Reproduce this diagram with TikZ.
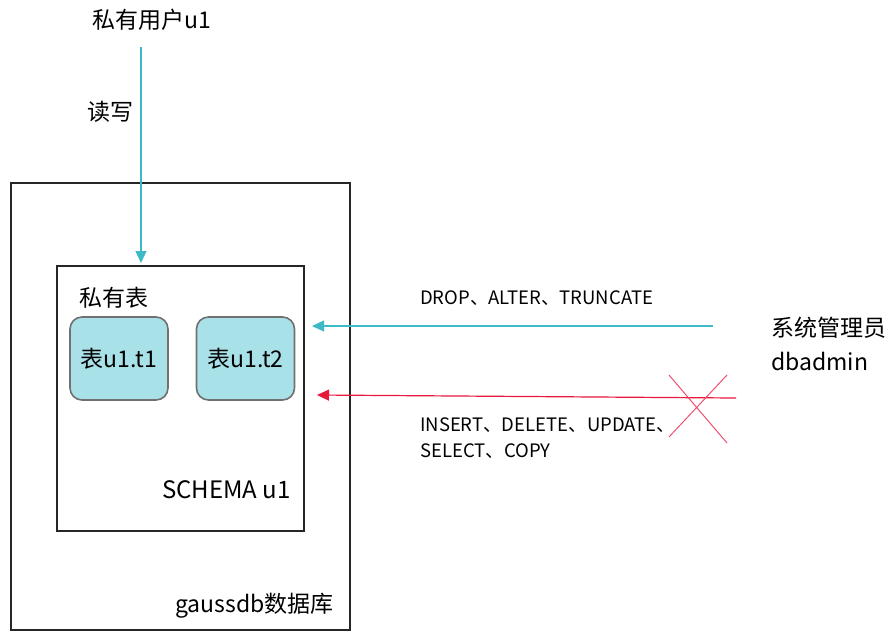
\documentclass[tikz,border=0pt]{standalone}
\usepackage{fontspec}
\setmainfont{Noto Sans CJK SC}
\usetikzlibrary{arrows.meta}
\definecolor{teal}{HTML}{3DB9C8}
\definecolor{redarr}{HTML}{E8173C}
\definecolor{crossred}{HTML}{F0506E}
\definecolor{tblfill}{HTML}{A9E1E9}
\definecolor{tbldraw}{HTML}{707070}
\tikzset{
  box/.style={draw=black!85, line width=1.6pt},
  tbl/.style={draw=tbldraw, line width=1.6pt, fill=tblfill, rounded corners=12pt, minimum width=98pt, minimum height=83pt, inner sep=0pt, font=\fontsize{23}{26}\selectfont},
  big/.style={font=\fontsize{23}{26}\selectfont, inner sep=0pt},
  small/.style={font=\fontsize{18.5}{21}\selectfont, inner sep=0pt, anchor=west},
  tealarr/.style={draw=teal, line width=1.2pt, -{Triangle[length=12pt,width=11pt]}},
  redarrow/.style={draw=redarr, line width=1.2pt, -{Triangle[length=12pt,width=11pt]}},
}
\begin{document}
\begin{tikzpicture}[x=1pt,y=-1pt]
\useasboundingbox (0,0) rectangle (890,630);
\node[box, minimum width=339pt, minimum height=447pt, anchor=north west, inner sep=0pt] (db) at (10,182) {};
\node[box, minimum width=247pt, minimum height=265pt, anchor=north west, inner sep=0pt] (schema) at (56,265) {};
\node[tbl] (t1) at (119,358.5) {表u1.t1};
\node[tbl] (t2) at (245.5,358.5) {表u1.t2};
\node[big, anchor=west] (ptab) at (79,298) {私有表};
\node[big, anchor=east, font=\fontsize{24}{27}\selectfont] (slab) at (291,490) {SCHEMA u1};
\node[big, anchor=east] (dblab) at (334,606) {gaussdb数据库};
\node[big] (user) at (152,20) {私有用户u1};
\node[big] (rw) at (110,112) {读写};
\coordinate (ustart) at (141,47);
\coordinate (uend) at (141,263);
\draw[tealarr] (ustart) -- (uend);
\node[big, anchor=west] (admin1) at (771,328) {系统管理员};
\node[big, anchor=west] (admin2) at (771,361) {dbadmin};
\coordinate (d1) at (713,326);
\coordinate (d2) at (312,326);
\draw[tealarr] (d1) -- (d2);
\node[small] (ddl) at (420,298) {DROP、ALTER、TRUNCATE};
\coordinate (r1) at (736,398);
\coordinate (r2) at (317,395);
\draw[redarrow] (r1) -- (r2);
\node[small] (dml1) at (420,425) {INSERT、DELETE、UPDATE、};
\node[small] (dml2) at (420,451) {SELECT、COPY};
\coordinate (c1) at (669,375);
\coordinate (c2) at (727,443);
\coordinate (c3) at (727,375);
\coordinate (c4) at (669,437);
\draw[crossred, line width=1pt] (c1) -- (c2);
\draw[crossred, line width=1pt] (c3) -- (c4);
\end{tikzpicture}
\end{document}
